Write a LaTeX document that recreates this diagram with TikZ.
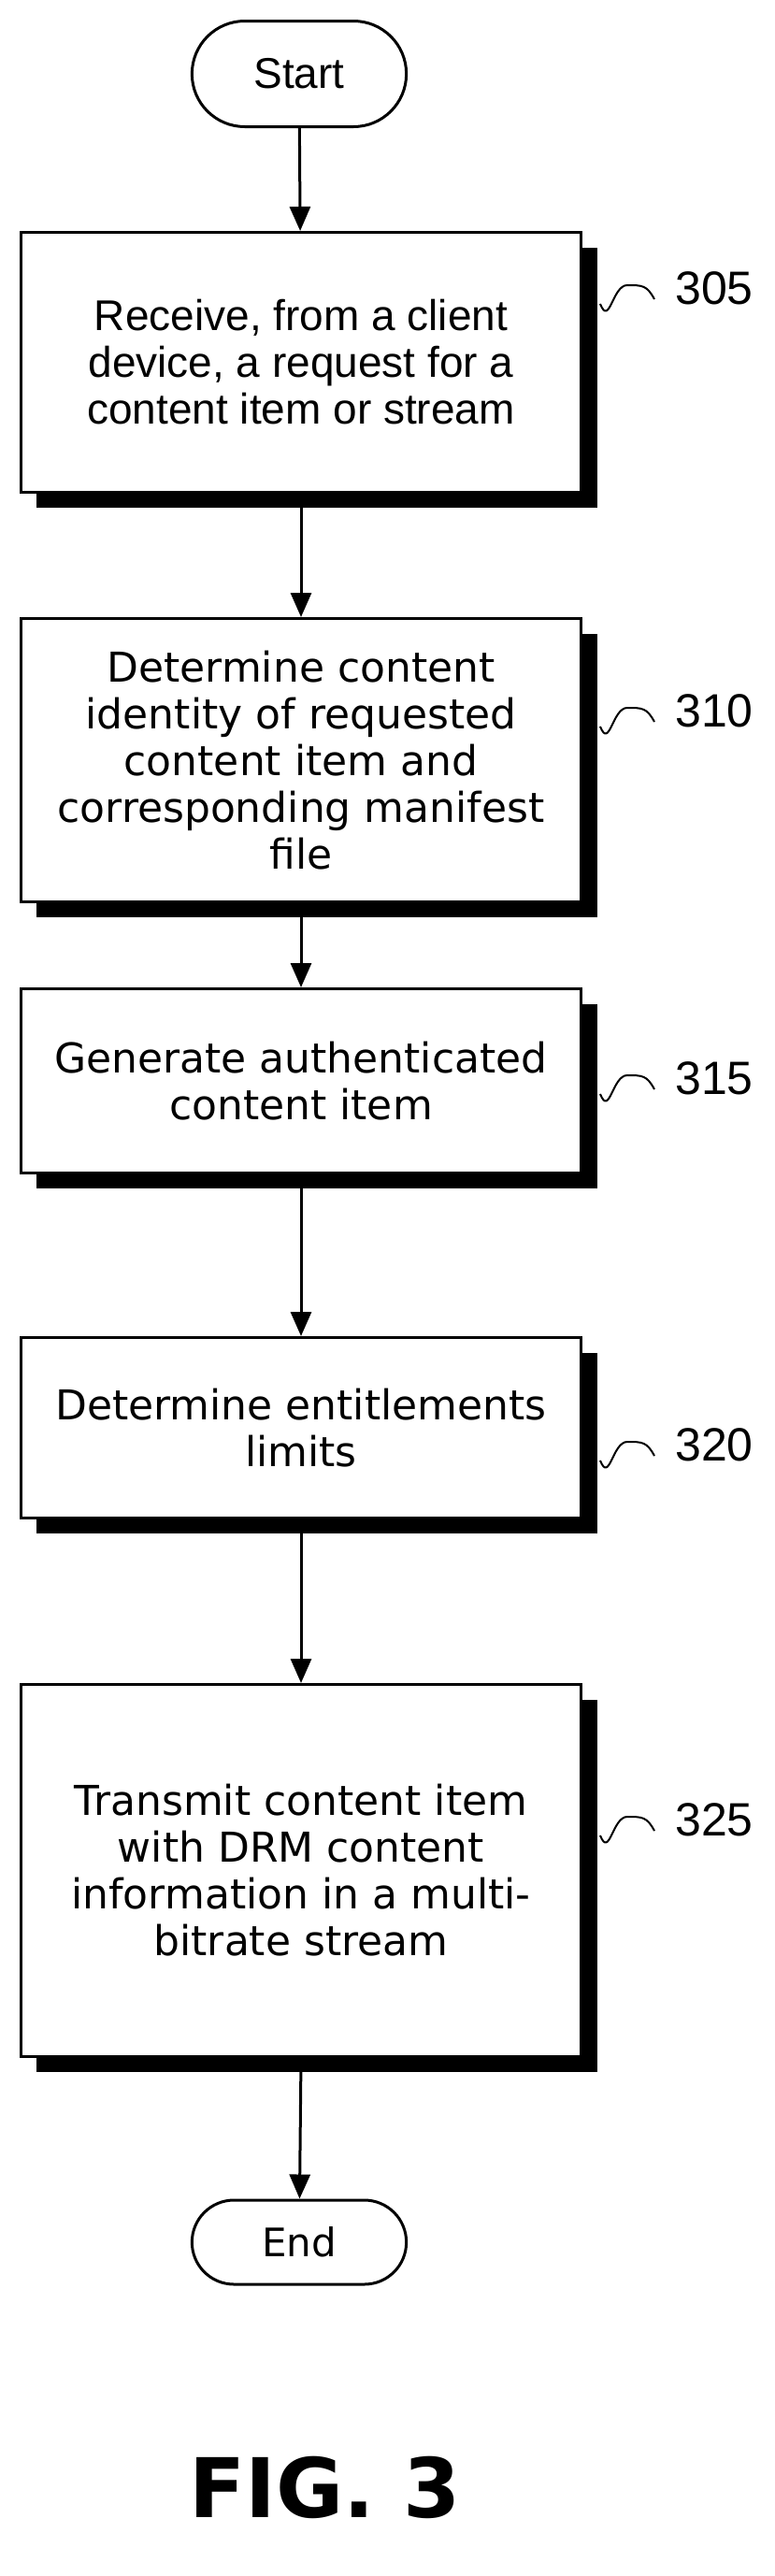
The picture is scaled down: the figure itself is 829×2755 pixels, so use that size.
\documentclass[tikz,border=0pt]{standalone}
\usepackage{fontspec}
\setmainfont{DejaVu Sans}
\newfontfamily\arialf{Liberation Sans}
\usetikzlibrary{arrows.meta,shapes.misc}
\begin{document}
\begin{tikzpicture}[x=1pt,y=-1pt,
  box/.style={draw,line width=3pt,fill=white,minimum width=599pt,align=center,inner sep=0pt},
  term/.style={draw,line width=3pt,rounded rectangle,minimum width=236pt,align=center},
  arr/.style={line width=3pt,-{Triangle[length=26pt,width=22pt]}},
  txt/.style={font=\fontsize{44}{50}\selectfont}]
\useasboundingbox (0,0) rectangle (829,2755);
\newcommand{\stepbox}[5]{% name, top, bottom, text, font
  \fill (39,#2+18) rectangle (639,#3+18);
  \node[box,minimum height=#3-#2,anchor=north west,#5] (#1) at (21,#2) {#4};
}
\node[term,minimum height=113pt,font=\arialf\fontsize{46}{52}\selectfont] (s) at (320,79) {Start};
\stepbox{b1}{247}{525}{Receive, from a client\\device, a request for a\\content item or stream}{font=\arialf\fontsize{46}{50}\selectfont}
\stepbox{b2}{660}{963}{Determine content\\identity of requested\\content item and\\corresponding manifest\\file}{txt}
\stepbox{b3}{1056}{1253}{Generate authenticated\\content item}{txt}
\stepbox{b4}{1429}{1622}{Determine entitlements\\limits}{txt}
\stepbox{b5}{1800}{2198}{Transmit content item\\with DRM content\\information in a multi-\\bitrate stream}{txt}
\node[term,minimum height=90pt,font=\fontsize{42}{46}\selectfont] (e) at (320,2398) {End};
\draw[arr] (s) -- (b1);
\draw[arr] (b1.south) -- (b2.north);
\draw[arr] (b2.south) -- (b3.north);
\draw[arr] (b3.south) -- (b4.north);
\draw[arr] (b4.south) -- (b5.north);
\draw[arr] (b5.south) -- (e);
\foreach \n/\y/\t in {b1/325/305, b2/777/310, b3/1170/315, b4/1562/320, b5/1963/325}{
  \coordinate (q\n) at (642,\y);
  \draw[line width=2pt] (q\n) .. controls +(10,25) and +(-16,0) .. ++(29,-20) .. controls +(16,0) and +(-8,-15) .. ++(29,15);
  \node[font=\arialf\fontsize{50}{54}\selectfont,anchor=west,inner sep=0pt] (l\n) at (722,\y-17) {\t};
}
\node[font=\bfseries\fontsize{88}{94}\selectfont] (fig) at (348,2660) {FIG. 3};
\end{tikzpicture}
\end{document}
